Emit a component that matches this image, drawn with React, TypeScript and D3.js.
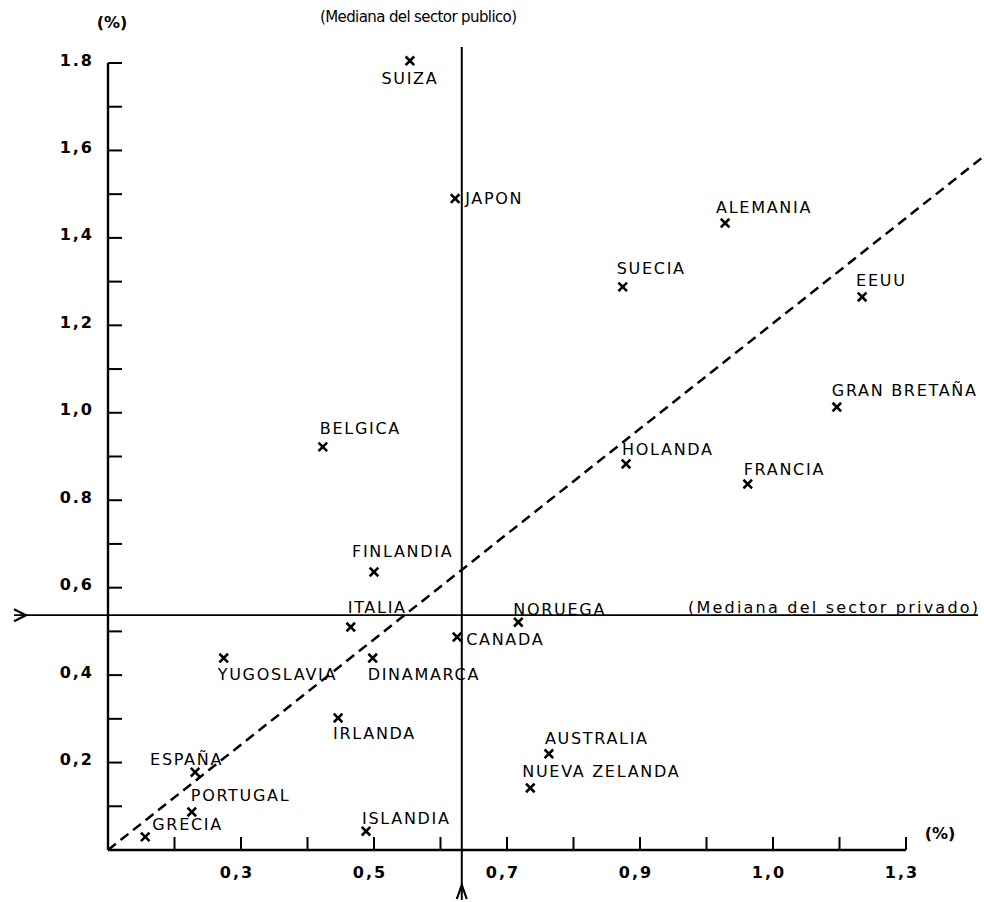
import React from "react";
import * as d3 from "d3";

// Paises y valores (%)
const countries = [
  "SUIZA", "JAPON", "ALEMANIA", "SUECIA", "EEUU", "GRAN BRETAÑA", "BELGICA",
  "HOLANDA", "FRANCIA", "FINLANDIA", "ITALIA", "NORUEGA", "CANADA", "YUGOSLAVIA",
  "DINAMARCA", "IRLANDA", "AUSTRALIA", "NUEVA ZELANDA", "ESPAÑA", "PORTUGAL",
  "GRECIA", "ISLANDIA",
];
const publico = [
  0.554, 0.622, 1.028, 0.874, 1.234, 1.196, 0.423,
  0.879, 1.062, 0.5, 0.465, 0.717, 0.625, 0.274,
  0.498, 0.446, 0.763, 0.735, 0.231, 0.226,
  0.156, 0.488,
];
const privado = [
  1.805, 1.49, 1.434, 1.288, 1.265, 1.013, 0.922,
  0.883, 0.837, 0.636, 0.51, 0.521, 0.487, 0.439,
  0.439, 0.302, 0.22, 0.142, 0.178, 0.087,
  0.03, 0.043,
];

const medianPublico = 0.632;
const medianPrivado = 0.537;
const diagonal = [[0.1, 0], [1.42, 1.59]];

const xTicks = [0.2, 0.3, 0.4, 0.5, 0.6, 0.7, 0.8, 0.9, 1.0, 1.1, 1.2, 1.3];
const xLabelTicks = [0.3, 0.5, 0.7, 0.9, 1.1, 1.3];
const xLabels = ["0,3", "0,5", "0,7", "0,9", "1,0", "1,3"];
const yTicks = [0.1, 0.2, 0.3, 0.4, 0.5, 0.6, 0.7, 0.8, 0.9, 1.0, 1.1, 1.2, 1.3, 1.4, 1.5, 1.6, 1.7, 1.8];
const yLabelTicks = [0.2, 0.4, 0.6, 0.8, 1.0, 1.2, 1.4, 1.6, 1.8];
const yLabels = ["0,2", "0,4", "0,6", "0.8", "1,0", "1,2", "1,4", "1,6", "1.8"];

// colocacion de cada etiqueta respecto a su marca: [dx, dy, anchor]
const labelPlace: [number, number, string][] = [
  [0, 19, "middle"], [10, 1, "start"], [-9, -15, "start"], [-6, -17, "start"],
  [-6, -15, "start"], [-5, -16, "start"], [-3, -17, "start"], [-4, -13, "start"],
  [-4, -14, "start"], [-22, -19, "start"], [-3, -19, "start"], [-5, -12, "start"],
  [9, 3, "start"], [-6, 17, "start"], [-5, 17, "start"], [-5, 17, "start"],
  [-4, -14, "start"], [-8, -15, "start"], [-45, -12, "start"], [-1, -15, "start"],
  [7, -11, "start"], [-4, -12, "start"],
];

const W = 984;
const H = 902;
const font = "'DejaVu Sans', sans-serif";

export default function App() {
  const x = d3.scaleLinear().domain([0.1, 1.3]).range([108, 906]);
  const y = d3.scaleLinear().domain([0, 1.8]).range([850, 63]);
  const x0 = x(0.1);
  const y0 = y(0);

  const line = d3.line<number[]>().x((d) => x(d[0])).y((d) => y(d[1]));
  const times = d3.symbol(d3.symbolTimes, 50)();

  const mx = x(medianPublico);
  const my = y(medianPrivado);

  return (
    <svg width={W} height={H} style={{ position: "absolute", left: 0, top: 0, background: "#fff" }}>
      {/* axis titles */}
      <text x={112} y={23} dominantBaseline="middle" fontFamily={font} fontSize={16} fontWeight="bold" textAnchor="middle">(%)</text>
      <text x={940} y={834} dominantBaseline="middle" fontFamily={font} fontSize={16} fontWeight="bold" textAnchor="middle">(%)</text>
      <text x={320} y={17} dominantBaseline="middle" fontFamily={font} fontSize={15} textLength={197} lengthAdjust="spacing">(Mediana del sector publico)</text>
      <text x={688} y={608} dominantBaseline="middle" fontFamily={font} fontSize={16} textLength={290} lengthAdjust="spacing">(Mediana del sector privado)</text>

      {/* y axis */}
      <line x1={x0} x2={x0} y1={y(1.8)} y2={y0} stroke="#000" strokeWidth={2.4} />
      {yTicks.map((t) => (
        <line key={"yt" + t} x1={x0} x2={x0 + 14} y1={y(t)} y2={y(t)} stroke="#000" strokeWidth={2} />
      ))}
      {yLabelTicks.map((t, i) => (
        <text key={"yl" + t} x={94} y={y(t) - 2} dominantBaseline="middle" textAnchor="end"
          fontFamily={font} fontSize={16} fontWeight="bold" letterSpacing={2}>{yLabels[i]}</text>
      ))}

      {/* x axis */}
      <line x1={x0} x2={x(1.3)} y1={y0} y2={y0} stroke="#000" strokeWidth={2.4} />
      {xTicks.map((t) => (
        <line key={"xt" + t} x1={x(t)} x2={x(t)} y1={y0} y2={y0 - 13} stroke="#000" strokeWidth={2} />
      ))}
      {xLabelTicks.map((t, i) => (
        <text key={"xl" + t} x={x(t) - 4} y={873} dominantBaseline="middle" textAnchor="middle"
          fontFamily={font} fontSize={16} fontWeight="bold" letterSpacing={2}>{xLabels[i]}</text>
      ))}

      {/* median lines */}
      <line x1={14} x2={978} y1={my} y2={my} stroke="#000" strokeWidth={1.7} />
      <path d={`M14,${my - 6}L26,${my}L14,${my + 6}`} fill="none" stroke="#000" strokeWidth={2.2} />
      <line x1={mx} x2={mx} y1={47} y2={900} stroke="#000" strokeWidth={2} />
      <path d={`M${mx - 5},${899}L${mx},${885}L${mx + 5},${899}`} fill="none" stroke="#000" strokeWidth={2.2} />

      {/* diagonal */}
      <path d={line(diagonal) || ""} fill="none" stroke="#000" strokeWidth={2.5} strokeDasharray="10,6" />

      {/* points */}
      {countries.map((c, i) => {
        const px = x(publico[i]);
        const py = y(privado[i]);
        const [dx, dy, anchor] = labelPlace[i];
        return (
          <g key={c}>
            <path d={times || ""} transform={`translate(${px},${py})`} stroke="#000" strokeWidth={2.6} fill="none" />
            <text x={px + dx} y={py + dy} dominantBaseline="middle" textAnchor={anchor}
              fontFamily={font} fontSize={16} letterSpacing={1.7}>{c}</text>
          </g>
        );
      })}
    </svg>
  );
}
